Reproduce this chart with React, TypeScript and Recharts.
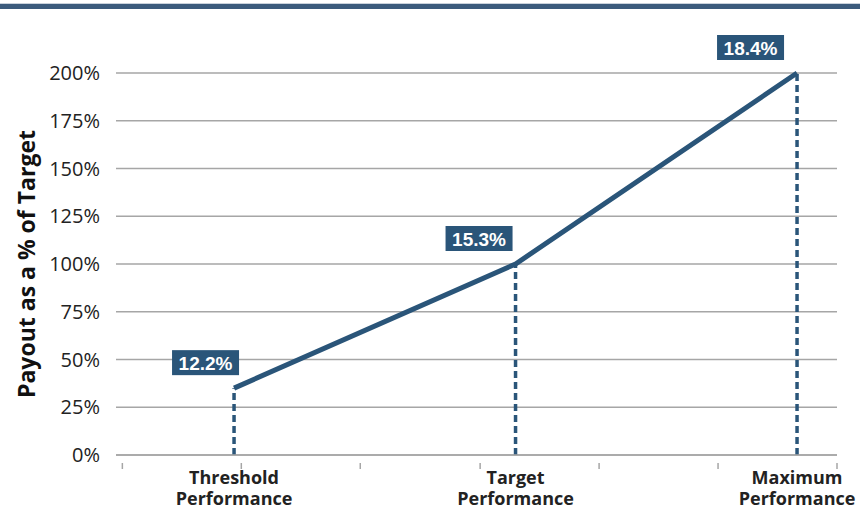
import { LineChart, Line, XAxis, YAxis, CartesianGrid, ReferenceLine, LabelList, Label } from "recharts";

const categories = ["Threshold Performance", "Target Performance", "Maximum Performance"];
const performance = [12.2, 15.3, 18.4];
const payout = [35, 100, 200];
const pointLabels = ["12.2%", "15.3%", "18.4%"];
const yTicks = [0, 25, 50, 75, 100, 125, 150, 175, 200];
const xTickMarks = [10.97, 12.28, 13.59, 14.91, 16.22, 17.53, 18.84];

const NAVY = "#2a5579";
const labelDx = [5, -3, -13];

const data = performance.map((p, i) => ({ x: p, y: payout[i], name: categories[i], label: pointLabels[i] }));

function XTick(props: any) {
  const { x, y, payload } = props;
  const idx = performance.indexOf(payload.value);
  if (idx >= 0) {
    const [a, b] = categories[idx].split(" ");
    return (
      <g fill="#222" fontFamily="'Open Sans'" fontWeight={700} fontSize={18}>
        <text x={x} y={y + 21} textAnchor="middle">{a}</text>
        <text x={x} y={y + 42} textAnchor="middle">{b}</text>
      </g>
    );
  }
  return <line x1={x} x2={x} y1={y} y2={y + 6} stroke="#a6a6a6" strokeWidth={1.5} />;
}

function BoxLabel(props: any) {
  const { x, y, index, value } = props;
  const bx = x - 67 + labelDx[index];
  return (
    <g>
      <rect x={bx} y={y - 38} width={67} height={25} fill={NAVY} />
      <text x={bx + 33.5} y={y - 18.5} textAnchor="middle" fill="#fff" fontFamily="'Liberation Sans', Arial" fontWeight={700} fontSize={19}>
        {value}
      </text>
    </g>
  );
}

export default function App() {
  return (
    <div style={{ position: "fixed", left: 0, top: 0, width: 860, height: 510, background: "#fff" }}>
      <div style={{ position: "absolute", zIndex: 2, left: 0, top: 3, width: 860, height: 1, background: "#c9d2dc" }} />
      <div style={{ position: "absolute", zIndex: 2, left: 0, top: 4, width: 860, height: 5, background: "#3b5b7c" }} />
      <div style={{ position: "absolute", left: 0, top: 0 }}>
        <LineChart width={860} height={510} data={data} margin={{ top: 73, right: 23, bottom: 0, left: 0 }}>
          <CartesianGrid horizontal vertical={false} stroke="#a6a6a6" strokeWidth={1.5} />
          <XAxis
            dataKey="x"
            type="number"
            domain={[10.9, 18.84]}
            ticks={[...xTickMarks, ...performance]}
            interval={0}
            tickLine={false}
            axisLine={{ stroke: "#a6a6a6", strokeWidth: 1.5 }}
            tick={<XTick />}
            height={55}
            allowDataOverflow
          />
          <YAxis
            type="number"
            domain={[0, 200]}
            ticks={yTicks}
            width={116}
            axisLine={false}
            tickLine={false}
            tickMargin={10}
            tickFormatter={(v: number) => `${v}%`}
            tick={{ fill: "#222", fontSize: 20, fontFamily: "'Open Sans'" }}
          >
            <Label
              value="Payout as a % of Target"
              angle={-90}
              position="insideLeft"
              offset={27}
              style={{ textAnchor: "middle", fill: "#111", fontSize: 23, fontWeight: 700, fontFamily: "'Open Sans'" }}
            />
          </YAxis>
          {data.map((d) => (
            <ReferenceLine
              key={d.name}
              segment={[{ x: d.x, y: 0 }, { x: d.x, y: d.y }]}
              stroke={NAVY}
              strokeWidth={3.5}
              strokeDasharray="7 4"
            />
          ))}
          <Line dataKey="y" stroke={NAVY} strokeWidth={5} dot={false} isAnimationActive={false}>
            <LabelList dataKey="label" content={<BoxLabel />} />
          </Line>
        </LineChart>
      </div>
    </div>
  );
}
